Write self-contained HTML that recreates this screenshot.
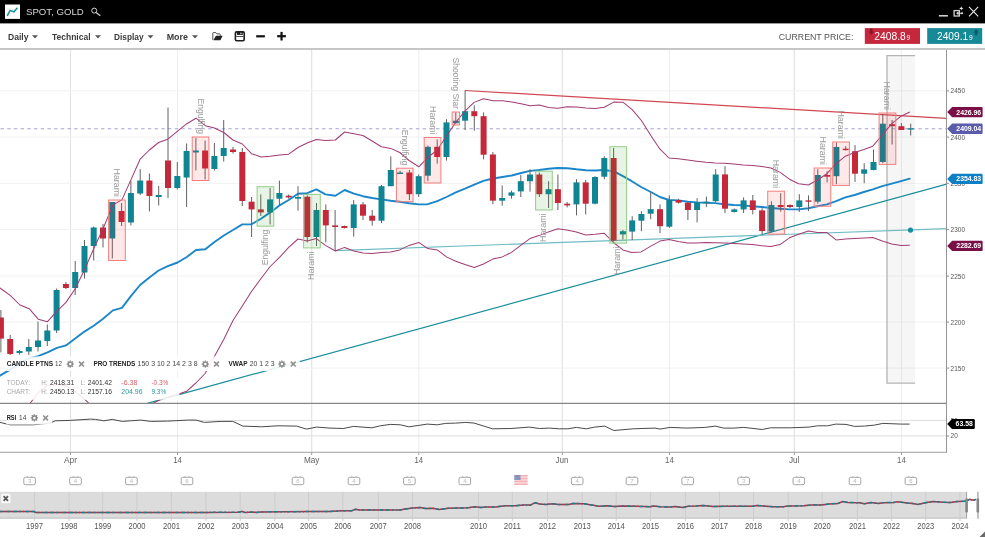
<!DOCTYPE html>
<html><head><meta charset="utf-8"><title>SPOT, GOLD</title>
<style>html,body{margin:0;padding:0;background:#fff;}body{width:985px;height:537px;overflow:hidden;font-family:"Liberation Sans",sans-serif;}svg{display:block;transform:translateZ(0);will-change:transform;}text{font-family:"Liberation Sans",sans-serif;}</style>
</head><body>
<svg width="985" height="537" viewBox="0 0 985 537">
<defs><clipPath id="cm"><rect x="0" y="50" width="946.6" height="353.3"/></clipPath></defs>
<rect x="0" y="0" width="985" height="537" fill="#fff"/>
<g><line x1="70.5" y1="50" x2="70.5" y2="452.3" stroke="#e3e3e3" stroke-width="1.2"/><line x1="311.7" y1="50" x2="311.7" y2="452.3" stroke="#e3e3e3" stroke-width="1.2"/><line x1="562.3" y1="50" x2="562.3" y2="452.3" stroke="#e3e3e3" stroke-width="1.2"/><line x1="794.3" y1="50" x2="794.3" y2="452.3" stroke="#e3e3e3" stroke-width="1.2"/><line x1="177.5" y1="50" x2="177.5" y2="452.3" stroke="#ededed" stroke-width="1"/><line x1="418.8" y1="50" x2="418.8" y2="452.3" stroke="#ededed" stroke-width="1"/><line x1="669.4" y1="50" x2="669.4" y2="452.3" stroke="#ededed" stroke-width="1"/><line x1="901.4" y1="50" x2="901.4" y2="452.3" stroke="#ededed" stroke-width="1"/><line x1="0" y1="90.9" x2="946.6" y2="90.9" stroke="#f1f1f1" stroke-width="1"/><line x1="0" y1="137.1" x2="946.6" y2="137.1" stroke="#f1f1f1" stroke-width="1"/><line x1="0" y1="183.3" x2="946.6" y2="183.3" stroke="#f1f1f1" stroke-width="1"/><line x1="0" y1="229.6" x2="946.6" y2="229.6" stroke="#f1f1f1" stroke-width="1"/><line x1="0" y1="276.1" x2="946.6" y2="276.1" stroke="#f1f1f1" stroke-width="1"/><line x1="0" y1="322.1" x2="946.6" y2="322.1" stroke="#f1f1f1" stroke-width="1"/><line x1="0" y1="368.1" x2="946.6" y2="368.1" stroke="#f1f1f1" stroke-width="1"/><line x1="0" y1="420.4" x2="946.6" y2="420.4" stroke="#dedede" stroke-width="1"/><line x1="0" y1="435.9" x2="946.6" y2="435.9" stroke="#dedede" stroke-width="1"/></g>
<rect x="887" y="55.6" width="28" height="327.6" fill="#000" fill-opacity="0.035"/>
<path d="M915 55.6 H887 V383.2 H915" fill="none" stroke="#b4b4b4" stroke-width="1.3"/>
<g clip-path="url(#cm)">
<line x1="-6.2" y1="128.7" x2="946.6" y2="128.7" stroke="#a4a4dd" stroke-width="1.1" stroke-dasharray="3.4,3.3"/>
<line x1="147.3" y1="403.3" x2="946.6" y2="184.1" stroke="#1a8e9c" stroke-width="1.2"/>
<line x1="335.4" y1="250.6" x2="946.6" y2="228.6" stroke="#6fbcc4" stroke-width="1.1"/>
<line x1="464.9" y1="90.5" x2="946.6" y2="118.3" stroke="#d04852" stroke-width="1.25"/>
<polyline points="-9.0,381.0 0.0,375.6 8.4,370.6 16.8,365.6 23.0,361.2 29.2,358.2 38.2,356.1 47.5,352.4 57.0,347.9 66.0,345.4 75.2,338.6 84.4,331.6 93.7,325.7 103.1,318.7 112.9,310.4 121.9,307.9 130.9,296.2 140.1,285.0 149.4,277.5 158.6,270.5 167.8,266.2 177.6,262.5 186.8,257.0 196.0,250.0 205.3,249.2 214.5,242.0 223.8,235.5 233.0,230.0 242.3,224.4 251.5,224.2 261.0,218.7 270.2,212.4 279.5,205.4 288.7,200.0 298.0,193.7 307.2,193.2 316.4,189.4 325.4,194.4 335.4,195.7 344.6,190.0 353.9,193.7 362.9,196.2 372.1,198.0 381.4,199.4 390.6,200.7 399.8,201.7 409.1,203.2 418.8,204.4 427.8,204.2 437.3,201.2 446.5,197.0 455.8,192.4 465.0,188.7 474.3,184.6 483.4,180.8 493.1,178.5 502.4,177.0 511.8,175.5 521.1,173.0 530.1,170.9 539.3,170.0 548.6,168.7 557.8,168.0 567.3,168.2 576.5,169.3 585.8,170.2 595.0,170.5 604.1,170.0 613.4,171.2 622.9,176.2 631.8,181.2 641.1,187.0 650.8,192.0 660.0,197.0 669.0,200.0 678.3,200.4 687.8,201.7 696.8,202.4 706.0,202.8 715.2,203.1 724.2,204.2 734.0,205.0 743.2,205.4 752.4,206.2 761.7,207.0 770.9,208.0 780.2,208.7 789.4,209.4 798.7,209.4 808.4,208.2 817.4,206.2 826.9,204.4 836.1,201.2 845.4,197.4 854.6,195.0 863.8,192.0 872.8,189.4 882.3,186.2 891.8,183.7 901.0,181.2 909.8,178.7" fill="none" stroke="#1b86c9" stroke-width="1.9" stroke-linejoin="round" stroke-linecap="round"/>
<g><line x1="0.9" y1="310.0" x2="0.9" y2="352.4" stroke="#626262" stroke-width="1"/><rect x="-2.1" y="317.5" width="6" height="21.1" fill="#c4283a"/><line x1="10.2" y1="335.0" x2="10.2" y2="355.0" stroke="#626262" stroke-width="1"/><rect x="7.2" y="339.0" width="6" height="15.0" fill="#c4283a"/><line x1="19.5" y1="350.0" x2="19.5" y2="354.5" stroke="#626262" stroke-width="1"/><rect x="16.5" y="351.0" width="6" height="2.0" fill="#0f8492"/><line x1="28.8" y1="339.0" x2="28.8" y2="355.0" stroke="#626262" stroke-width="1"/><rect x="25.8" y="347.0" width="6" height="4.5" fill="#0f8492"/><line x1="38.0" y1="321.5" x2="38.0" y2="351.5" stroke="#626262" stroke-width="1"/><rect x="35.0" y="340.5" width="6" height="6.5" fill="#0f8492"/><line x1="47.3" y1="324.5" x2="47.3" y2="346.0" stroke="#626262" stroke-width="1"/><rect x="44.3" y="330.5" width="6" height="10.5" fill="#0f8492"/><line x1="56.6" y1="288.5" x2="56.6" y2="333.0" stroke="#626262" stroke-width="1"/><rect x="53.6" y="290.0" width="6" height="40.5" fill="#0f8492"/><line x1="65.9" y1="282.0" x2="65.9" y2="289.0" stroke="#626262" stroke-width="1"/><rect x="62.9" y="284.0" width="6" height="4.0" fill="#c4283a"/><line x1="75.2" y1="261.0" x2="75.2" y2="295.0" stroke="#626262" stroke-width="1"/><rect x="72.2" y="272.0" width="6" height="16.0" fill="#0f8492"/><line x1="84.5" y1="240.0" x2="84.5" y2="278.5" stroke="#626262" stroke-width="1"/><rect x="81.5" y="246.0" width="6" height="26.5" fill="#0f8492"/><line x1="93.7" y1="226.5" x2="93.7" y2="260.5" stroke="#626262" stroke-width="1"/><rect x="90.7" y="227.5" width="6" height="18.5" fill="#0f8492"/><line x1="103.0" y1="224.0" x2="103.0" y2="247.5" stroke="#626262" stroke-width="1"/><rect x="100.0" y="227.5" width="6" height="11.0" fill="#c4283a"/><line x1="112.3" y1="202.0" x2="112.3" y2="258.5" stroke="#626262" stroke-width="1"/><rect x="109.3" y="202.0" width="6" height="36.5" fill="#0f8492"/><line x1="121.6" y1="203.0" x2="121.6" y2="226.0" stroke="#626262" stroke-width="1"/><rect x="118.6" y="211.0" width="6" height="11.0" fill="#c4283a"/><line x1="130.9" y1="180.5" x2="130.9" y2="225.5" stroke="#626262" stroke-width="1"/><rect x="127.9" y="193.0" width="6" height="29.5" fill="#0f8492"/><line x1="140.2" y1="169.0" x2="140.2" y2="195.0" stroke="#626262" stroke-width="1"/><rect x="137.2" y="180.5" width="6" height="13.0" fill="#0f8492"/><line x1="149.4" y1="173.5" x2="149.4" y2="211.5" stroke="#626262" stroke-width="1"/><rect x="146.4" y="180.5" width="6" height="15.5" fill="#c4283a"/><line x1="158.7" y1="186.0" x2="158.7" y2="205.5" stroke="#626262" stroke-width="1"/><rect x="155.7" y="195.0" width="6" height="2.0" fill="#0f8492"/><line x1="168.0" y1="107.5" x2="168.0" y2="198.0" stroke="#626262" stroke-width="1"/><rect x="165.0" y="160.5" width="6" height="27.5" fill="#c4283a"/><line x1="177.3" y1="162.0" x2="177.3" y2="189.5" stroke="#626262" stroke-width="1"/><rect x="174.3" y="176.0" width="6" height="12.0" fill="#0f8492"/><line x1="186.6" y1="143.5" x2="186.6" y2="207.0" stroke="#626262" stroke-width="1"/><rect x="183.6" y="151.0" width="6" height="26.5" fill="#0f8492"/><line x1="195.9" y1="138.0" x2="195.9" y2="170.5" stroke="#626262" stroke-width="1"/><rect x="192.9" y="150.5" width="6" height="2.0" fill="#0f8492"/><line x1="205.1" y1="140.5" x2="205.1" y2="179.5" stroke="#626262" stroke-width="1"/><rect x="202.1" y="150.5" width="6" height="18.0" fill="#c4283a"/><line x1="214.4" y1="143.0" x2="214.4" y2="170.5" stroke="#626262" stroke-width="1"/><rect x="211.4" y="156.0" width="6" height="13.0" fill="#0f8492"/><line x1="223.7" y1="120.0" x2="223.7" y2="161.5" stroke="#626262" stroke-width="1"/><rect x="220.7" y="148.0" width="6" height="8.0" fill="#0f8492"/><line x1="233.0" y1="147.0" x2="233.0" y2="153.5" stroke="#626262" stroke-width="1"/><rect x="230.0" y="149.5" width="6" height="2.5" fill="#c4283a"/><line x1="242.3" y1="148.0" x2="242.3" y2="206.0" stroke="#626262" stroke-width="1"/><rect x="239.3" y="152.0" width="6" height="49.0" fill="#c4283a"/><line x1="251.6" y1="197.0" x2="251.6" y2="237.0" stroke="#626262" stroke-width="1"/><rect x="248.6" y="201.7" width="6" height="7.7" fill="#c4283a"/><line x1="260.8" y1="194.4" x2="260.8" y2="216.0" stroke="#626262" stroke-width="1"/><rect x="257.8" y="209.4" width="6" height="3.0" fill="#c4283a"/><line x1="270.1" y1="188.0" x2="270.1" y2="224.4" stroke="#626262" stroke-width="1"/><rect x="267.1" y="199.4" width="6" height="13.0" fill="#0f8492"/><line x1="279.4" y1="180.7" x2="279.4" y2="205.0" stroke="#626262" stroke-width="1"/><rect x="276.4" y="193.0" width="6" height="5.7" fill="#0f8492"/><line x1="288.7" y1="194.4" x2="288.7" y2="198.7" stroke="#626262" stroke-width="1"/><rect x="285.7" y="195.7" width="6" height="1.7" fill="#c4283a"/><line x1="298.0" y1="186.2" x2="298.0" y2="210.7" stroke="#626262" stroke-width="1"/><rect x="295.0" y="197.0" width="6" height="1.7" fill="#0f8492"/><line x1="307.3" y1="195.4" x2="307.3" y2="242.4" stroke="#626262" stroke-width="1"/><rect x="304.3" y="196.7" width="6" height="40.3" fill="#c4283a"/><line x1="316.5" y1="203.0" x2="316.5" y2="246.0" stroke="#626262" stroke-width="1"/><rect x="313.5" y="210.0" width="6" height="27.0" fill="#0f8492"/><line x1="325.8" y1="204.4" x2="325.8" y2="242.4" stroke="#626262" stroke-width="1"/><rect x="322.8" y="210.0" width="6" height="15.4" fill="#c4283a"/><line x1="335.1" y1="210.0" x2="335.1" y2="251.0" stroke="#626262" stroke-width="1"/><rect x="332.1" y="225.4" width="6" height="1.6" fill="#c4283a"/><line x1="344.4" y1="225.5" x2="344.4" y2="228.5" stroke="#626262" stroke-width="1"/><rect x="341.4" y="226.0" width="6" height="2.0" fill="#c4283a"/><line x1="353.7" y1="200.0" x2="353.7" y2="236.6" stroke="#626262" stroke-width="1"/><rect x="350.7" y="204.4" width="6" height="23.6" fill="#0f8492"/><line x1="363.0" y1="202.0" x2="363.0" y2="220.0" stroke="#626262" stroke-width="1"/><rect x="360.0" y="204.4" width="6" height="11.3" fill="#c4283a"/><line x1="372.2" y1="210.0" x2="372.2" y2="225.7" stroke="#626262" stroke-width="1"/><rect x="369.2" y="215.7" width="6" height="5.0" fill="#c4283a"/><line x1="381.5" y1="185.0" x2="381.5" y2="223.0" stroke="#626262" stroke-width="1"/><rect x="378.5" y="186.2" width="6" height="34.5" fill="#0f8492"/><line x1="390.8" y1="156.4" x2="390.8" y2="186.2" stroke="#626262" stroke-width="1"/><rect x="387.8" y="170.0" width="6" height="16.2" fill="#0f8492"/><line x1="400.1" y1="170.7" x2="400.1" y2="174.0" stroke="#626262" stroke-width="1"/><rect x="397.1" y="172.5" width="6" height="1.5" fill="#0f8492"/><line x1="409.4" y1="170.0" x2="409.4" y2="200.0" stroke="#626262" stroke-width="1"/><rect x="406.4" y="172.5" width="6" height="21.7" fill="#c4283a"/><line x1="418.7" y1="174.5" x2="418.7" y2="197.0" stroke="#626262" stroke-width="1"/><rect x="415.7" y="176.2" width="6" height="18.0" fill="#0f8492"/><line x1="427.9" y1="145.5" x2="427.9" y2="181.2" stroke="#626262" stroke-width="1"/><rect x="424.9" y="146.8" width="6" height="28.9" fill="#0f8492"/><line x1="437.2" y1="139.4" x2="437.2" y2="163.6" stroke="#626262" stroke-width="1"/><rect x="434.2" y="146.8" width="6" height="10.2" fill="#c4283a"/><line x1="446.5" y1="119.2" x2="446.5" y2="160.6" stroke="#626262" stroke-width="1"/><rect x="443.5" y="122.4" width="6" height="34.6" fill="#0f8492"/><line x1="455.8" y1="112.4" x2="455.8" y2="123.2" stroke="#626262" stroke-width="1"/><rect x="452.8" y="120.7" width="6" height="2.5" fill="#0f8492"/><line x1="465.1" y1="90.5" x2="465.1" y2="130.0" stroke="#626262" stroke-width="1"/><rect x="462.1" y="111.2" width="6" height="9.5" fill="#0f8492"/><line x1="474.3" y1="105.4" x2="474.3" y2="130.7" stroke="#626262" stroke-width="1"/><rect x="471.3" y="111.2" width="6" height="5.0" fill="#c4283a"/><line x1="483.6" y1="112.4" x2="483.6" y2="159.4" stroke="#626262" stroke-width="1"/><rect x="480.6" y="116.2" width="6" height="38.5" fill="#c4283a"/><line x1="492.9" y1="152.0" x2="492.9" y2="204.2" stroke="#626262" stroke-width="1"/><rect x="489.9" y="154.5" width="6" height="46.2" fill="#c4283a"/><line x1="502.2" y1="185.4" x2="502.2" y2="205.7" stroke="#626262" stroke-width="1"/><rect x="499.2" y="198.0" width="6" height="2.7" fill="#0f8492"/><line x1="511.5" y1="190.7" x2="511.5" y2="198.7" stroke="#626262" stroke-width="1"/><rect x="508.5" y="192.4" width="6" height="3.3" fill="#0f8492"/><line x1="520.8" y1="175.0" x2="520.8" y2="197.0" stroke="#626262" stroke-width="1"/><rect x="517.8" y="181.2" width="6" height="10.2" fill="#0f8492"/><line x1="530.0" y1="169.2" x2="530.0" y2="191.7" stroke="#626262" stroke-width="1"/><rect x="527.0" y="174.5" width="6" height="6.7" fill="#0f8492"/><line x1="539.3" y1="172.5" x2="539.3" y2="197.0" stroke="#626262" stroke-width="1"/><rect x="536.3" y="174.5" width="6" height="19.7" fill="#c4283a"/><line x1="548.6" y1="181.2" x2="548.6" y2="208.0" stroke="#626262" stroke-width="1"/><rect x="545.6" y="189.2" width="6" height="5.0" fill="#0f8492"/><line x1="557.9" y1="174.5" x2="557.9" y2="210.0" stroke="#626262" stroke-width="1"/><rect x="554.9" y="189.2" width="6" height="13.8" fill="#c4283a"/><line x1="567.2" y1="202.0" x2="567.2" y2="207.4" stroke="#626262" stroke-width="1"/><rect x="564.2" y="203.7" width="6" height="1.7" fill="#c4283a"/><line x1="576.5" y1="179.2" x2="576.5" y2="215.4" stroke="#626262" stroke-width="1"/><rect x="573.5" y="182.4" width="6" height="22.0" fill="#0f8492"/><line x1="585.7" y1="180.0" x2="585.7" y2="214.4" stroke="#626262" stroke-width="1"/><rect x="582.7" y="182.4" width="6" height="21.3" fill="#c4283a"/><line x1="595.0" y1="176.2" x2="595.0" y2="204.4" stroke="#626262" stroke-width="1"/><rect x="592.0" y="177.0" width="6" height="26.7" fill="#0f8492"/><line x1="604.3" y1="156.2" x2="604.3" y2="179.2" stroke="#626262" stroke-width="1"/><rect x="601.3" y="158.0" width="6" height="18.7" fill="#0f8492"/><line x1="613.6" y1="148.0" x2="613.6" y2="241.6" stroke="#626262" stroke-width="1"/><rect x="610.6" y="158.0" width="6" height="82.6" fill="#c4283a"/><line x1="622.9" y1="230.0" x2="622.9" y2="239.4" stroke="#626262" stroke-width="1"/><rect x="619.9" y="231.2" width="6" height="3.2" fill="#0f8492"/><line x1="632.2" y1="216.2" x2="632.2" y2="240.0" stroke="#626262" stroke-width="1"/><rect x="629.2" y="220.4" width="6" height="11.2" fill="#0f8492"/><line x1="641.4" y1="211.2" x2="641.4" y2="231.2" stroke="#626262" stroke-width="1"/><rect x="638.4" y="214.0" width="6" height="6.7" fill="#0f8492"/><line x1="650.7" y1="192.4" x2="650.7" y2="219.2" stroke="#626262" stroke-width="1"/><rect x="647.7" y="209.2" width="6" height="4.5" fill="#0f8492"/><line x1="660.0" y1="204.4" x2="660.0" y2="233.0" stroke="#626262" stroke-width="1"/><rect x="657.0" y="209.2" width="6" height="17.0" fill="#c4283a"/><line x1="669.3" y1="195.4" x2="669.3" y2="228.0" stroke="#626262" stroke-width="1"/><rect x="666.3" y="200.0" width="6" height="26.7" fill="#0f8492"/><line x1="678.6" y1="198.7" x2="678.6" y2="203.7" stroke="#626262" stroke-width="1"/><rect x="675.6" y="200.0" width="6" height="2.7" fill="#c4283a"/><line x1="687.9" y1="202.0" x2="687.9" y2="220.0" stroke="#626262" stroke-width="1"/><rect x="684.9" y="202.7" width="6" height="7.3" fill="#c4283a"/><line x1="697.1" y1="198.2" x2="697.1" y2="222.4" stroke="#626262" stroke-width="1"/><rect x="694.1" y="202.4" width="6" height="7.6" fill="#0f8492"/><line x1="706.4" y1="196.5" x2="706.4" y2="207.0" stroke="#626262" stroke-width="1"/><rect x="703.4" y="201.7" width="6" height="1.5" fill="#0f8492"/><line x1="715.7" y1="169.2" x2="715.7" y2="202.4" stroke="#626262" stroke-width="1"/><rect x="712.7" y="174.5" width="6" height="26.7" fill="#0f8492"/><line x1="725.0" y1="166.2" x2="725.0" y2="213.1" stroke="#626262" stroke-width="1"/><rect x="722.0" y="174.4" width="6" height="34.3" fill="#c4283a"/><line x1="734.3" y1="208.5" x2="734.3" y2="212.5" stroke="#626262" stroke-width="1"/><rect x="731.3" y="209.4" width="6" height="2.6" fill="#0f8492"/><line x1="743.6" y1="197.4" x2="743.6" y2="213.0" stroke="#626262" stroke-width="1"/><rect x="740.6" y="200.4" width="6" height="9.0" fill="#0f8492"/><line x1="752.8" y1="195.0" x2="752.8" y2="214.4" stroke="#626262" stroke-width="1"/><rect x="749.8" y="200.4" width="6" height="9.6" fill="#c4283a"/><line x1="762.1" y1="208.2" x2="762.1" y2="234.4" stroke="#626262" stroke-width="1"/><rect x="759.1" y="210.4" width="6" height="20.7" fill="#c4283a"/><line x1="771.4" y1="201.2" x2="771.4" y2="232.4" stroke="#626262" stroke-width="1"/><rect x="768.4" y="205.0" width="6" height="26.6" fill="#0f8492"/><line x1="780.7" y1="193.2" x2="780.7" y2="211.6" stroke="#626262" stroke-width="1"/><rect x="777.7" y="205.0" width="6" height="2.0" fill="#c4283a"/><line x1="790.0" y1="204.4" x2="790.0" y2="208.0" stroke="#626262" stroke-width="1"/><rect x="787.0" y="205.0" width="6" height="2.0" fill="#c4283a"/><line x1="799.3" y1="194.2" x2="799.3" y2="212.0" stroke="#626262" stroke-width="1"/><rect x="796.3" y="200.4" width="6" height="6.6" fill="#0f8492"/><line x1="808.5" y1="195.4" x2="808.5" y2="211.1" stroke="#626262" stroke-width="1"/><rect x="805.5" y="200.4" width="6" height="1.4" fill="#c4283a"/><line x1="817.8" y1="169.2" x2="817.8" y2="203.7" stroke="#626262" stroke-width="1"/><rect x="814.8" y="175.0" width="6" height="26.7" fill="#0f8492"/><line x1="827.1" y1="171.2" x2="827.1" y2="182.4" stroke="#626262" stroke-width="1"/><rect x="824.1" y="175.0" width="6" height="1.7" fill="#c4283a"/><line x1="836.4" y1="142.5" x2="836.4" y2="184.2" stroke="#626262" stroke-width="1"/><rect x="833.4" y="147.0" width="6" height="29.2" fill="#0f8492"/><line x1="845.7" y1="146.2" x2="845.7" y2="150.5" stroke="#626262" stroke-width="1"/><rect x="842.7" y="148.7" width="6" height="1.4" fill="#c4283a"/><line x1="855.0" y1="145.0" x2="855.0" y2="182.0" stroke="#626262" stroke-width="1"/><rect x="852.0" y="151.2" width="6" height="22.5" fill="#c4283a"/><line x1="864.2" y1="163.2" x2="864.2" y2="183.2" stroke="#626262" stroke-width="1"/><rect x="861.2" y="169.4" width="6" height="4.3" fill="#0f8492"/><line x1="873.5" y1="149.5" x2="873.5" y2="170.4" stroke="#626262" stroke-width="1"/><rect x="870.5" y="162.0" width="6" height="8.0" fill="#0f8492"/><line x1="882.8" y1="113.7" x2="882.8" y2="163.2" stroke="#626262" stroke-width="1"/><rect x="879.8" y="123.7" width="6" height="38.3" fill="#0f8492"/><line x1="892.1" y1="120.0" x2="892.1" y2="144.5" stroke="#626262" stroke-width="1"/><rect x="889.1" y="124.2" width="6" height="2.0" fill="#c4283a"/><line x1="901.4" y1="123.0" x2="901.4" y2="130.0" stroke="#626262" stroke-width="1"/><rect x="898.4" y="126.2" width="6" height="3.8" fill="#c4283a"/><line x1="910.7" y1="123.7" x2="910.7" y2="135.5" stroke="#626262" stroke-width="1"/><rect x="907.7" y="128.2" width="6" height="1.4" fill="#0f8492"/></g>
<polyline points="-9.0,281.0 0.0,288.0 10.2,295.4 20.0,305.0 29.2,308.7 38.2,319.2 47.5,321.7 57.0,311.2 66.0,302.4 75.2,288.7 84.4,270.0 93.7,248.7 103.1,228.5 112.9,204.9 121.9,199.9 130.9,179.9 140.1,159.2 149.4,150.0 158.6,142.5 167.8,139.2 177.6,131.2 186.8,123.7 196.0,118.2 205.3,125.7 214.5,128.0 223.8,132.5 233.0,140.0 242.3,144.0 251.5,153.7 261.0,157.0 270.2,156.2 279.5,155.0 288.7,154.2 298.0,147.5 307.2,143.0 316.4,139.5 325.4,140.5 335.4,140.0 344.6,132.0 353.9,133.7 362.9,135.5 372.1,141.0 381.4,146.8 390.6,148.4 399.8,152.5 409.1,160.5 418.8,166.8 427.8,157.4 437.3,150.0 446.5,136.0 455.7,122.4 464.9,111.2 474.1,102.4 483.4,98.7 493.1,100.7 502.4,100.7 511.8,102.0 521.1,103.7 530.1,105.7 539.3,105.0 548.6,107.4 557.8,108.2 567.3,106.7 576.5,107.0 585.8,108.0 595.0,108.6 604.3,107.2 613.6,102.1 622.9,102.2 632.2,109.6 641.4,120.5 650.8,135.5 660.0,149.2 669.0,158.0 678.3,158.7 687.8,160.0 696.8,161.2 706.0,162.3 715.2,163.0 724.2,163.2 734.0,164.0 743.2,165.0 752.4,165.4 761.7,166.4 770.9,168.0 780.2,172.4 789.4,179.2 798.7,183.7 808.4,185.0 817.4,180.0 826.9,173.7 836.1,163.7 845.4,156.2 854.6,152.5 863.8,149.5 872.8,146.2 882.3,135.0 891.8,123.7 901.0,116.2 909.8,112.0" fill="none" stroke="#a23c74" stroke-width="1.02" stroke-linejoin="round"/>
<polyline points="10.2,432.0 19.5,418.0 28.8,405.0 38.0,393.0 47.3,385.5 56.6,384.3 65.9,385.8 75.2,391.7 84.5,399.2 93.7,408.0 112.0,440.0 130.0,450.0 149.0,415.0 153.4,403.3 160.5,399.4 168.0,397.0 177.3,394.5 186.6,391.3 195.9,383.0 205.1,373.5 214.4,356.5 223.7,339.5 233.0,320.5 242.3,306.0 251.5,291.5 261.0,278.5 270.2,266.5 279.5,257.4 288.7,247.4 298.0,239.0 307.2,241.0 316.4,238.6 325.4,245.4 335.4,251.0 344.6,247.4 353.9,251.0 362.9,253.0 372.1,253.6 381.4,252.4 390.6,251.9 399.8,249.9 409.1,245.4 418.8,242.4 427.8,248.6 437.3,249.9 446.5,256.9 455.8,261.2 465.0,264.5 474.3,267.5 483.5,264.0 492.7,259.1 502.2,256.9 511.5,252.4 520.7,245.4 530.0,238.6 539.0,235.6 548.4,231.9 557.7,228.7 566.7,229.9 576.4,231.9 585.6,234.9 595.1,234.3 604.1,233.2 613.4,242.5 622.9,249.9 631.8,252.4 641.1,251.9 650.8,246.1 660.0,241.1 669.0,239.4 678.3,241.6 687.8,242.9 696.8,242.9 706.0,242.5 715.2,242.8 724.2,243.1 734.0,243.5 743.2,244.0 752.4,244.4 761.7,245.7 770.9,246.6 780.0,244.6 789.4,237.8 798.7,234.2 808.4,231.1 817.4,232.4 826.9,232.6 836.1,239.9 845.4,239.1 854.6,238.6 863.8,237.9 872.8,237.4 882.3,241.1 891.8,244.0 901.0,245.5 909.8,245.3" fill="none" stroke="#a23c74" stroke-width="1.02" stroke-linejoin="round"/>
<g><rect x="108.6" y="200" width="16.7" height="60.5" fill="#ff2a2a" fill-opacity="0.11" stroke="#f47e7e" stroke-width="1"/><text transform="translate(114.0,168.5) rotate(90)" font-size="9" fill="#9c9c9c" textLength="28.5" lengthAdjust="spacingAndGlyphs">Harami</text><rect x="192.2" y="137" width="16.7" height="43.5" fill="#ff2a2a" fill-opacity="0.11" stroke="#f47e7e" stroke-width="1"/><text transform="translate(198.1,98.5) rotate(90)" font-size="9" fill="#9c9c9c" textLength="35.5" lengthAdjust="spacingAndGlyphs">Engulfing</text><rect x="257.1" y="186.7" width="16.7" height="39.5" fill="#3a9a2a" fill-opacity="0.12" stroke="#93cd88" stroke-width="1"/><text transform="translate(268.0,265.2) rotate(-90)" font-size="9" fill="#9c9c9c" textLength="35.5" lengthAdjust="spacingAndGlyphs">Engulfing</text><rect x="303.6" y="194.4" width="16.7" height="53.5" fill="#3a9a2a" fill-opacity="0.12" stroke="#93cd88" stroke-width="1"/><text transform="translate(313.9,279.9) rotate(-90)" font-size="9" fill="#9c9c9c" textLength="28.5" lengthAdjust="spacingAndGlyphs">Harami</text><rect x="396.4" y="168.2" width="16.7" height="33.5" fill="#ff2a2a" fill-opacity="0.11" stroke="#f47e7e" stroke-width="1"/><text transform="translate(402.3,129.7) rotate(90)" font-size="9" fill="#9c9c9c" textLength="35.5" lengthAdjust="spacingAndGlyphs">Engulfing</text><rect x="424.2" y="137.5" width="16.7" height="45.5" fill="#ff2a2a" fill-opacity="0.11" stroke="#f47e7e" stroke-width="1"/><text transform="translate(429.6,106.0) rotate(90)" font-size="9" fill="#9c9c9c" textLength="28.5" lengthAdjust="spacingAndGlyphs">Harami</text><rect x="452.1" y="112" width="7.4" height="13.0" fill="#ff2a2a" fill-opacity="0.11" stroke="#f47e7e" stroke-width="1"/><text transform="translate(452.5,57.5) rotate(90)" font-size="9" fill="#9c9c9c" textLength="51.5" lengthAdjust="spacingAndGlyphs">Shooting Star</text><rect x="535.6" y="171.2" width="16.7" height="38.8" fill="#3a9a2a" fill-opacity="0.12" stroke="#93cd88" stroke-width="1"/><text transform="translate(546.0,242.0) rotate(-90)" font-size="9" fill="#9c9c9c" textLength="28.5" lengthAdjust="spacingAndGlyphs">Harami</text><rect x="609.9" y="146.7" width="16.7" height="96.4" fill="#3a9a2a" fill-opacity="0.12" stroke="#93cd88" stroke-width="1"/><text transform="translate(620.2,275.1) rotate(-90)" font-size="9" fill="#9c9c9c" textLength="28.5" lengthAdjust="spacingAndGlyphs">Harami</text><rect x="767.7" y="191.2" width="16.7" height="42.9" fill="#ff2a2a" fill-opacity="0.11" stroke="#f47e7e" stroke-width="1"/><text transform="translate(773.0,159.7) rotate(90)" font-size="9" fill="#9c9c9c" textLength="28.5" lengthAdjust="spacingAndGlyphs">Harami</text><rect x="814.1" y="168" width="16.7" height="38.2" fill="#ff2a2a" fill-opacity="0.11" stroke="#f47e7e" stroke-width="1"/><text transform="translate(819.5,136.5) rotate(90)" font-size="9" fill="#9c9c9c" textLength="28.5" lengthAdjust="spacingAndGlyphs">Harami</text><rect x="832.7" y="142" width="16.7" height="43.4" fill="#ff2a2a" fill-opacity="0.11" stroke="#f47e7e" stroke-width="1"/><text transform="translate(838.0,110.5) rotate(90)" font-size="9" fill="#9c9c9c" textLength="28.5" lengthAdjust="spacingAndGlyphs">Harami</text><rect x="879.1" y="113" width="16.7" height="51.4" fill="#ff2a2a" fill-opacity="0.11" stroke="#f47e7e" stroke-width="1"/><text transform="translate(884.4,81.5) rotate(90)" font-size="9" fill="#9c9c9c" textLength="28.5" lengthAdjust="spacingAndGlyphs">Harami</text></g>
<circle cx="910.5" cy="230.1" r="2.6" fill="#1a8e9c"/>
</g>
<polyline points="-5.0,422.0 0.0,422.4 10.0,424.8 33.5,424.8 50.0,423.1 55.3,420.8 70.4,420.4 90.5,419.1 95.5,419.4 103.9,420.8 112.2,419.4 122.3,421.4 130.7,420.8 140.7,420.1 150.8,421.4 167.5,421.1 187.6,420.1 196.0,420.1 204.4,422.4 221.1,421.4 232.8,421.4 242.9,426.1 261.3,426.8 278.0,425.8 296.5,426.1 306.5,429.1 316.6,427.1 330.0,428.1 343.4,428.5 353.5,426.4 371.9,427.8 380.3,425.8 390.3,424.4 400.4,424.8 408.8,426.8 418.8,425.4 427.2,424.1 437.2,424.8 445.6,423.4 455.7,423.1 465.7,422.4 474.1,423.1 492.5,428.8 510.9,428.5 529.4,427.1 539.4,428.5 549.5,428.1 559.5,428.8 567.9,428.8 576.3,427.4 586.3,428.8 594.7,427.1 604.7,426.1 613.8,430.5 633.2,428.8 655.0,428.1 660.0,429.1 670.1,427.4 686.9,428.1 705.3,427.4 715.3,426.1 723.7,428.1 733.8,428.1 743.8,427.4 762.2,429.5 770.6,427.8 790.7,427.8 809.1,427.1 817.5,425.8 827.6,425.8 835.9,424.1 846.0,424.4 854.4,426.4 864.4,426.1 874.5,425.1 882.8,423.4 901.3,424.1 909.6,424.1" fill="none" stroke="#4a4a4a" stroke-width="1" stroke-linejoin="round"/>
<rect x="6.3" y="356.4" width="293.5" height="14.6" fill="#fff" fill-opacity="0.88"/>
<rect x="6.3" y="377" width="173.2" height="22.8" fill="#fff" fill-opacity="0.88"/>
<rect x="6.3" y="411" width="45.7" height="13.5" fill="#fff" fill-opacity="0.88"/>
<line x1="0" y1="403.3" x2="946.6" y2="403.3" stroke="#868686" stroke-width="1.15"/>
<line x1="0" y1="452.3" x2="946.6" y2="452.3" stroke="#a2a2a2" stroke-width="1"/>
<line x1="946.5" y1="50" x2="946.5" y2="452.8" stroke="#959595" stroke-width="1"/>
<line x1="70.5" y1="452.3" x2="70.5" y2="455" stroke="#9a9a9a" stroke-width="1"/><line x1="311.7" y1="452.3" x2="311.7" y2="455" stroke="#9a9a9a" stroke-width="1"/><line x1="562.3" y1="452.3" x2="562.3" y2="455" stroke="#9a9a9a" stroke-width="1"/><line x1="794.3" y1="452.3" x2="794.3" y2="455" stroke="#9a9a9a" stroke-width="1"/><line x1="177.5" y1="452.3" x2="177.5" y2="455" stroke="#9a9a9a" stroke-width="1"/><line x1="418.8" y1="452.3" x2="418.8" y2="455" stroke="#9a9a9a" stroke-width="1"/><line x1="669.4" y1="452.3" x2="669.4" y2="455" stroke="#9a9a9a" stroke-width="1"/><line x1="901.4" y1="452.3" x2="901.4" y2="455" stroke="#9a9a9a" stroke-width="1"/><line x1="946.6" y1="90.9" x2="949" y2="90.9" stroke="#8c8c8c" stroke-width="1"/><line x1="946.6" y1="137.1" x2="949" y2="137.1" stroke="#8c8c8c" stroke-width="1"/><line x1="946.6" y1="183.3" x2="949" y2="183.3" stroke="#8c8c8c" stroke-width="1"/><line x1="946.6" y1="229.6" x2="949" y2="229.6" stroke="#8c8c8c" stroke-width="1"/><line x1="946.6" y1="276.1" x2="949" y2="276.1" stroke="#8c8c8c" stroke-width="1"/><line x1="946.6" y1="322.1" x2="949" y2="322.1" stroke="#8c8c8c" stroke-width="1"/><line x1="946.6" y1="368.1" x2="949" y2="368.1" stroke="#8c8c8c" stroke-width="1"/><line x1="946.6" y1="436" x2="949" y2="436" stroke="#8c8c8c" stroke-width="1"/>
<text x="950.6" y="93.30000000000001" font-size="6.6" fill="#555" textLength="14.4" lengthAdjust="spacingAndGlyphs">2450</text>
<text x="950.6" y="139.5" font-size="6.6" fill="#555" textLength="14.4" lengthAdjust="spacingAndGlyphs">2400</text>
<text x="950.6" y="185.70000000000002" font-size="6.6" fill="#555" textLength="14.4" lengthAdjust="spacingAndGlyphs">2350</text>
<text x="950.6" y="232.0" font-size="6.6" fill="#555" textLength="14.4" lengthAdjust="spacingAndGlyphs">2300</text>
<text x="950.6" y="278.5" font-size="6.6" fill="#555" textLength="14.4" lengthAdjust="spacingAndGlyphs">2250</text>
<text x="950.6" y="324.5" font-size="6.6" fill="#555" textLength="14.4" lengthAdjust="spacingAndGlyphs">2200</text>
<text x="950.6" y="370.5" font-size="6.6" fill="#555" textLength="14.4" lengthAdjust="spacingAndGlyphs">2150</text>
<text x="950.6" y="422.79999999999995" font-size="6.6" fill="#555" textLength="7.2" lengthAdjust="spacingAndGlyphs">80</text>
<text x="950.6" y="438.4" font-size="6.6" fill="#555" textLength="7.2" lengthAdjust="spacingAndGlyphs">20</text>
<path d="M947.2 112.1 L952.2 106.89999999999999 H981.4 Q982.6 106.89999999999999 982.6 108.1 V116.1 Q982.6 117.3 981.4 117.3 H952.2 Z" fill="#7a0f47"/>
<text x="956.3" y="114.55" font-size="6.8" fill="#fff" font-weight="bold" textLength="24.9" lengthAdjust="spacingAndGlyphs">2426.96</text>
<path d="M947.2 128.7 L952.2 123.49999999999999 H981.4 Q982.6 123.49999999999999 982.6 124.69999999999999 V132.7 Q982.6 133.89999999999998 981.4 133.89999999999998 H952.2 Z" fill="#5b5bab"/>
<text x="956.3" y="131.14999999999998" font-size="6.8" fill="#fff" font-weight="bold" textLength="24.9" lengthAdjust="spacingAndGlyphs">2409.04</text>
<path d="M947.2 178.9 L952.2 173.70000000000002 H981.4 Q982.6 173.70000000000002 982.6 174.9 V182.9 Q982.6 184.1 981.4 184.1 H952.2 Z" fill="#0d7fc4"/>
<text x="956.3" y="181.35" font-size="6.8" fill="#fff" font-weight="bold" textLength="24.9" lengthAdjust="spacingAndGlyphs">2354.83</text>
<path d="M947.2 245.9 L952.2 240.70000000000002 H981.4 Q982.6 240.70000000000002 982.6 241.9 V249.9 Q982.6 251.1 981.4 251.1 H952.2 Z" fill="#7a0f47"/>
<text x="956.3" y="248.35" font-size="6.8" fill="#fff" font-weight="bold" textLength="24.9" lengthAdjust="spacingAndGlyphs">2282.69</text>
<path d="M947.2 424 L952 419 H973.6 Q974.8 419 974.8 420.2 V427.8 Q974.8 429 973.6 429 H952 Z" fill="#000"/>
<text x="955.6" y="426.45" font-size="6.8" fill="#fff" font-weight="bold" textLength="17.2" lengthAdjust="spacingAndGlyphs">63.58</text>
<text x="64.0" y="463" font-size="8.6" fill="#626262" textLength="13" lengthAdjust="spacingAndGlyphs">Apr</text>
<text x="173.2" y="463" font-size="8.6" fill="#626262" textLength="8.6" lengthAdjust="spacingAndGlyphs">14</text>
<text x="303.95" y="463" font-size="8.6" fill="#626262" textLength="15.5" lengthAdjust="spacingAndGlyphs">May</text>
<text x="414.5" y="463" font-size="8.6" fill="#626262" textLength="8.6" lengthAdjust="spacingAndGlyphs">14</text>
<text x="555.5" y="463" font-size="8.6" fill="#626262" textLength="13" lengthAdjust="spacingAndGlyphs">Jun</text>
<text x="665.1" y="463" font-size="8.6" fill="#626262" textLength="8.6" lengthAdjust="spacingAndGlyphs">14</text>
<text x="788.95" y="463" font-size="8.6" fill="#626262" textLength="10.5" lengthAdjust="spacingAndGlyphs">Jul</text>
<text x="897.1" y="463" font-size="8.6" fill="#626262" textLength="8.6" lengthAdjust="spacingAndGlyphs">14</text>
<text x="6.7" y="366.0" font-size="6.6" fill="#222" font-weight="bold" textLength="46.3" lengthAdjust="spacingAndGlyphs">CANDLE PTNS</text>
<text x="55" y="366.0" font-size="6.6" fill="#444" textLength="7" lengthAdjust="spacingAndGlyphs">12</text>
<path d="M72.99 363.41 L74.00 363.47 L74.00 364.73 L72.99 364.79 L72.69 365.52 L73.36 366.26 L72.46 367.16 L71.72 366.49 L70.99 366.79 L70.93 367.80 L69.67 367.80 L69.61 366.79 L68.88 366.49 L68.14 367.16 L67.24 366.26 L67.91 365.52 L67.61 364.79 L66.60 364.73 L66.60 363.47 L67.61 363.41 L67.91 362.68 L67.24 361.94 L68.14 361.04 L68.88 361.71 L69.61 361.41 L69.67 360.40 L70.93 360.40 L70.99 361.41 L71.72 361.71 L72.46 361.04 L73.36 361.94 L72.69 362.68Z" fill="#8a8a8a"/><circle cx="70.3" cy="364.1" r="1.25" fill="#fff"/>
<path d="M79.05 361.65000000000003 L83.95 366.55 M83.95 361.65000000000003 L79.05 366.55" stroke="#8e8e8e" stroke-width="1.6" fill="none"/>
<text x="93.4" y="366.0" font-size="6.6" fill="#222" font-weight="bold" textLength="42" lengthAdjust="spacingAndGlyphs">PRO TRENDS</text>
<text x="137.6" y="366.0" font-size="6.6" fill="#444" textLength="60" lengthAdjust="spacingAndGlyphs">150 3 10 2 14 2 3 8</text>
<path d="M207.99 363.41 L209.00 363.47 L209.00 364.73 L207.99 364.79 L207.69 365.52 L208.36 366.26 L207.46 367.16 L206.72 366.49 L205.99 366.79 L205.93 367.80 L204.67 367.80 L204.61 366.79 L203.88 366.49 L203.14 367.16 L202.24 366.26 L202.91 365.52 L202.61 364.79 L201.60 364.73 L201.60 363.47 L202.61 363.41 L202.91 362.68 L202.24 361.94 L203.14 361.04 L203.88 361.71 L204.61 361.41 L204.67 360.40 L205.93 360.40 L205.99 361.41 L206.72 361.71 L207.46 361.04 L208.36 361.94 L207.69 362.68Z" fill="#8a8a8a"/><circle cx="205.3" cy="364.1" r="1.25" fill="#fff"/>
<path d="M214.05 361.65000000000003 L218.95 366.55 M218.95 361.65000000000003 L214.05 366.55" stroke="#8e8e8e" stroke-width="1.6" fill="none"/>
<text x="228.5" y="366.0" font-size="6.6" fill="#222" font-weight="bold" textLength="19" lengthAdjust="spacingAndGlyphs">VWAP</text>
<text x="249.8" y="366.0" font-size="6.6" fill="#444" textLength="24.8" lengthAdjust="spacingAndGlyphs">20 1 2 3</text>
<path d="M284.59 363.41 L285.60 363.47 L285.60 364.73 L284.59 364.79 L284.29 365.52 L284.96 366.26 L284.06 367.16 L283.32 366.49 L282.59 366.79 L282.53 367.80 L281.27 367.80 L281.21 366.79 L280.48 366.49 L279.74 367.16 L278.84 366.26 L279.51 365.52 L279.21 364.79 L278.20 364.73 L278.20 363.47 L279.21 363.41 L279.51 362.68 L278.84 361.94 L279.74 361.04 L280.48 361.71 L281.21 361.41 L281.27 360.40 L282.53 360.40 L282.59 361.41 L283.32 361.71 L284.06 361.04 L284.96 361.94 L284.29 362.68Z" fill="#8a8a8a"/><circle cx="281.9" cy="364.1" r="1.25" fill="#fff"/>
<path d="M290.75 361.65000000000003 L295.65 366.55 M295.65 361.65000000000003 L290.75 366.55" stroke="#8e8e8e" stroke-width="1.6" fill="none"/>
<text x="6.7" y="385.4" font-size="6.6" fill="#a8a8a8" textLength="23.3" lengthAdjust="spacingAndGlyphs">TODAY:</text>
<text x="41.3" y="385.4" font-size="6.6" fill="#a8a8a8" textLength="6.3" lengthAdjust="spacingAndGlyphs">H:</text>
<text x="50" y="385.4" font-size="6.6" fill="#333" textLength="24.2" lengthAdjust="spacingAndGlyphs">2418.31</text>
<text x="80.5" y="385.4" font-size="6.6" fill="#a8a8a8" textLength="5" lengthAdjust="spacingAndGlyphs">L:</text>
<text x="87.8" y="385.4" font-size="6.6" fill="#333" textLength="24.2" lengthAdjust="spacingAndGlyphs">2401.42</text>
<text x="121.3" y="385.4" font-size="6.6" fill="#d9606a" textLength="16" lengthAdjust="spacingAndGlyphs">-6.38</text>
<text x="151.4" y="385.4" font-size="6.6" fill="#d9606a" textLength="17" lengthAdjust="spacingAndGlyphs">-0.3%</text>
<text x="6.7" y="394.1" font-size="6.6" fill="#a8a8a8" textLength="23.3" lengthAdjust="spacingAndGlyphs">CHART:</text>
<text x="41.3" y="394.1" font-size="6.6" fill="#a8a8a8" textLength="6.3" lengthAdjust="spacingAndGlyphs">H:</text>
<text x="50" y="394.1" font-size="6.6" fill="#333" textLength="24.2" lengthAdjust="spacingAndGlyphs">2450.13</text>
<text x="80.5" y="394.1" font-size="6.6" fill="#a8a8a8" textLength="5" lengthAdjust="spacingAndGlyphs">L:</text>
<text x="87.8" y="394.1" font-size="6.6" fill="#333" textLength="24.2" lengthAdjust="spacingAndGlyphs">2157.16</text>
<text x="121.3" y="394.1" font-size="6.6" fill="#2f9aa6" textLength="21.2" lengthAdjust="spacingAndGlyphs">204.96</text>
<text x="151.4" y="394.1" font-size="6.6" fill="#2f9aa6" textLength="14.8" lengthAdjust="spacingAndGlyphs">9.3%</text>
<text x="6.7" y="420.1" font-size="6.6" fill="#222" font-weight="bold" textLength="9.6" lengthAdjust="spacingAndGlyphs">RSI</text>
<text x="19" y="420.1" font-size="6.6" fill="#444" textLength="7.3" lengthAdjust="spacingAndGlyphs">14</text>
<path d="M37.09 417.21 L38.10 417.27 L38.10 418.53 L37.09 418.59 L36.79 419.32 L37.46 420.06 L36.56 420.96 L35.82 420.29 L35.09 420.59 L35.03 421.60 L33.77 421.60 L33.71 420.59 L32.98 420.29 L32.24 420.96 L31.34 420.06 L32.01 419.32 L31.71 418.59 L30.70 418.53 L30.70 417.27 L31.71 417.21 L32.01 416.48 L31.34 415.74 L32.24 414.84 L32.98 415.51 L33.71 415.21 L33.77 414.20 L35.03 414.20 L35.09 415.21 L35.82 415.51 L36.56 414.84 L37.46 415.74 L36.79 416.48Z" fill="#8a8a8a"/><circle cx="34.4" cy="417.9" r="1.25" fill="#fff"/>
<path d="M43.15 415.45 L48.050000000000004 420.34999999999997 M48.050000000000004 415.45 L43.15 420.34999999999997" stroke="#8e8e8e" stroke-width="1.6" fill="none"/>
<rect x="23.8" y="477.3" width="11.6" height="7.4" rx="1.6" fill="#fff" stroke="#a5a5a5" stroke-width="1"/><path d="M27.4 477 v-1 M31.8 477 v-1" stroke="#c5c5c5" stroke-width="1.2"/><text x="29.6" y="483.4" font-size="6" fill="#b8b8b8" text-anchor="middle">3</text><rect x="69.7" y="477.3" width="11.6" height="7.4" rx="1.6" fill="#fff" stroke="#a5a5a5" stroke-width="1"/><path d="M73.3 477 v-1 M77.7 477 v-1" stroke="#c5c5c5" stroke-width="1.2"/><text x="75.5" y="483.4" font-size="6" fill="#b8b8b8" text-anchor="middle">4</text><rect x="125.6" y="477.3" width="11.6" height="7.4" rx="1.6" fill="#fff" stroke="#a5a5a5" stroke-width="1"/><path d="M129.2 477 v-1 M133.6 477 v-1" stroke="#c5c5c5" stroke-width="1.2"/><text x="131.4" y="483.4" font-size="6" fill="#b8b8b8" text-anchor="middle">4</text><rect x="181.2" y="477.3" width="11.6" height="7.4" rx="1.6" fill="#fff" stroke="#a5a5a5" stroke-width="1"/><path d="M184.8 477 v-1 M189.2 477 v-1" stroke="#c5c5c5" stroke-width="1.2"/><text x="187.0" y="483.4" font-size="6" fill="#b8b8b8" text-anchor="middle">6</text><rect x="292.2" y="477.3" width="11.6" height="7.4" rx="1.6" fill="#fff" stroke="#a5a5a5" stroke-width="1"/><path d="M295.8 477 v-1 M300.2 477 v-1" stroke="#c5c5c5" stroke-width="1.2"/><text x="298.0" y="483.4" font-size="6" fill="#b8b8b8" text-anchor="middle">6</text><rect x="348.2" y="477.3" width="11.6" height="7.4" rx="1.6" fill="#fff" stroke="#a5a5a5" stroke-width="1"/><path d="M351.8 477 v-1 M356.2 477 v-1" stroke="#c5c5c5" stroke-width="1.2"/><text x="354.0" y="483.4" font-size="6" fill="#b8b8b8" text-anchor="middle">4</text><rect x="403.6" y="477.3" width="11.6" height="7.4" rx="1.6" fill="#fff" stroke="#a5a5a5" stroke-width="1"/><path d="M407.2 477 v-1 M411.6 477 v-1" stroke="#c5c5c5" stroke-width="1.2"/><text x="409.4" y="483.4" font-size="6" fill="#b8b8b8" text-anchor="middle">5</text><rect x="459.0" y="477.3" width="11.6" height="7.4" rx="1.6" fill="#fff" stroke="#a5a5a5" stroke-width="1"/><path d="M462.6 477 v-1 M467.0 477 v-1" stroke="#c5c5c5" stroke-width="1.2"/><text x="464.8" y="483.4" font-size="6" fill="#b8b8b8" text-anchor="middle">4</text><rect x="571.4" y="477.3" width="11.6" height="7.4" rx="1.6" fill="#fff" stroke="#a5a5a5" stroke-width="1"/><path d="M575.0 477 v-1 M579.4 477 v-1" stroke="#c5c5c5" stroke-width="1.2"/><text x="577.2" y="483.4" font-size="6" fill="#b8b8b8" text-anchor="middle">4</text><rect x="626.2" y="477.3" width="11.6" height="7.4" rx="1.6" fill="#fff" stroke="#a5a5a5" stroke-width="1"/><path d="M629.8 477 v-1 M634.2 477 v-1" stroke="#c5c5c5" stroke-width="1.2"/><text x="632.0" y="483.4" font-size="6" fill="#b8b8b8" text-anchor="middle">7</text><rect x="681.9" y="477.3" width="11.6" height="7.4" rx="1.6" fill="#fff" stroke="#a5a5a5" stroke-width="1"/><path d="M685.5 477 v-1 M689.9 477 v-1" stroke="#c5c5c5" stroke-width="1.2"/><text x="687.7" y="483.4" font-size="6" fill="#b8b8b8" text-anchor="middle">7</text><rect x="737.9" y="477.3" width="11.6" height="7.4" rx="1.6" fill="#fff" stroke="#a5a5a5" stroke-width="1"/><path d="M741.5 477 v-1 M745.9 477 v-1" stroke="#c5c5c5" stroke-width="1.2"/><text x="743.7" y="483.4" font-size="6" fill="#b8b8b8" text-anchor="middle">3</text><rect x="793.0" y="477.3" width="11.6" height="7.4" rx="1.6" fill="#fff" stroke="#a5a5a5" stroke-width="1"/><path d="M796.6 477 v-1 M801.0 477 v-1" stroke="#c5c5c5" stroke-width="1.2"/><text x="798.8" y="483.4" font-size="6" fill="#b8b8b8" text-anchor="middle">4</text><rect x="849.2" y="477.3" width="11.6" height="7.4" rx="1.6" fill="#fff" stroke="#a5a5a5" stroke-width="1"/><path d="M852.8 477 v-1 M857.2 477 v-1" stroke="#c5c5c5" stroke-width="1.2"/><text x="855.0" y="483.4" font-size="6" fill="#b8b8b8" text-anchor="middle">4</text><rect x="905.1" y="477.3" width="11.6" height="7.4" rx="1.6" fill="#fff" stroke="#a5a5a5" stroke-width="1"/><path d="M908.7 477 v-1 M913.1 477 v-1" stroke="#c5c5c5" stroke-width="1.2"/><text x="910.9" y="483.4" font-size="6" fill="#b8b8b8" text-anchor="middle">6</text>
<g><rect x="514.4" y="475" width="13.2" height="10" fill="#fbdcdc"/><rect x="514.4" y="475.00" width="13.2" height="1.43" fill="#f4b0b4"/><rect x="514.4" y="477.86" width="13.2" height="1.43" fill="#f4b0b4"/><rect x="514.4" y="480.71" width="13.2" height="1.43" fill="#f4b0b4"/><rect x="514.4" y="483.57" width="13.2" height="1.43" fill="#f4b0b4"/><rect x="514.4" y="475" width="6.1" height="5" fill="#8894bd"/></g>
<rect x="0" y="491.8" width="979" height="26.6" fill="#dcdcdc"/>
<rect x="0" y="517.6" width="979" height="1" fill="#bdbdbd"/>
<line x1="34.6" y1="491.8" x2="34.6" y2="521" stroke="#cdcdcd" stroke-width="1"/><text x="26.1" y="529.4" font-size="8.4" fill="#555" textLength="17" lengthAdjust="spacingAndGlyphs">1997</text><line x1="69.1" y1="491.8" x2="69.1" y2="521" stroke="#cdcdcd" stroke-width="1"/><text x="60.6" y="529.4" font-size="8.4" fill="#555" textLength="17" lengthAdjust="spacingAndGlyphs">1998</text><line x1="102.7" y1="491.8" x2="102.7" y2="521" stroke="#cdcdcd" stroke-width="1"/><text x="94.2" y="529.4" font-size="8.4" fill="#555" textLength="17" lengthAdjust="spacingAndGlyphs">1999</text><line x1="137.0" y1="491.8" x2="137.0" y2="521" stroke="#cdcdcd" stroke-width="1"/><text x="128.5" y="529.4" font-size="8.4" fill="#555" textLength="17" lengthAdjust="spacingAndGlyphs">2000</text><line x1="171.4" y1="491.8" x2="171.4" y2="521" stroke="#cdcdcd" stroke-width="1"/><text x="162.9" y="529.4" font-size="8.4" fill="#555" textLength="17" lengthAdjust="spacingAndGlyphs">2001</text><line x1="205.9" y1="491.8" x2="205.9" y2="521" stroke="#cdcdcd" stroke-width="1"/><text x="197.4" y="529.4" font-size="8.4" fill="#555" textLength="17" lengthAdjust="spacingAndGlyphs">2002</text><line x1="240.2" y1="491.8" x2="240.2" y2="521" stroke="#cdcdcd" stroke-width="1"/><text x="231.7" y="529.4" font-size="8.4" fill="#555" textLength="17" lengthAdjust="spacingAndGlyphs">2003</text><line x1="274.9" y1="491.8" x2="274.9" y2="521" stroke="#cdcdcd" stroke-width="1"/><text x="266.4" y="529.4" font-size="8.4" fill="#555" textLength="17" lengthAdjust="spacingAndGlyphs">2004</text><line x1="308.6" y1="491.8" x2="308.6" y2="521" stroke="#cdcdcd" stroke-width="1"/><text x="300.1" y="529.4" font-size="8.4" fill="#555" textLength="17" lengthAdjust="spacingAndGlyphs">2005</text><line x1="342.8" y1="491.8" x2="342.8" y2="521" stroke="#cdcdcd" stroke-width="1"/><text x="334.3" y="529.4" font-size="8.4" fill="#555" textLength="17" lengthAdjust="spacingAndGlyphs">2006</text><line x1="378.3" y1="491.8" x2="378.3" y2="521" stroke="#cdcdcd" stroke-width="1"/><text x="369.8" y="529.4" font-size="8.4" fill="#555" textLength="17" lengthAdjust="spacingAndGlyphs">2007</text><line x1="412.6" y1="491.8" x2="412.6" y2="521" stroke="#cdcdcd" stroke-width="1"/><text x="404.1" y="529.4" font-size="8.4" fill="#555" textLength="17" lengthAdjust="spacingAndGlyphs">2008</text><line x1="478.6" y1="491.8" x2="478.6" y2="521" stroke="#cdcdcd" stroke-width="1"/><text x="470.1" y="529.4" font-size="8.4" fill="#555" textLength="17" lengthAdjust="spacingAndGlyphs">2010</text><line x1="512.3" y1="491.8" x2="512.3" y2="521" stroke="#cdcdcd" stroke-width="1"/><text x="503.8" y="529.4" font-size="8.4" fill="#555" textLength="17" lengthAdjust="spacingAndGlyphs">2011</text><line x1="547.5" y1="491.8" x2="547.5" y2="521" stroke="#cdcdcd" stroke-width="1"/><text x="539.0" y="529.4" font-size="8.4" fill="#555" textLength="17" lengthAdjust="spacingAndGlyphs">2012</text><line x1="582.2" y1="491.8" x2="582.2" y2="521" stroke="#cdcdcd" stroke-width="1"/><text x="573.7" y="529.4" font-size="8.4" fill="#555" textLength="17" lengthAdjust="spacingAndGlyphs">2013</text><line x1="616.2" y1="491.8" x2="616.2" y2="521" stroke="#cdcdcd" stroke-width="1"/><text x="607.7" y="529.4" font-size="8.4" fill="#555" textLength="17" lengthAdjust="spacingAndGlyphs">2014</text><line x1="650.6" y1="491.8" x2="650.6" y2="521" stroke="#cdcdcd" stroke-width="1"/><text x="642.1" y="529.4" font-size="8.4" fill="#555" textLength="17" lengthAdjust="spacingAndGlyphs">2015</text><line x1="685.4" y1="491.8" x2="685.4" y2="521" stroke="#cdcdcd" stroke-width="1"/><text x="676.9" y="529.4" font-size="8.4" fill="#555" textLength="17" lengthAdjust="spacingAndGlyphs">2016</text><line x1="719.5" y1="491.8" x2="719.5" y2="521" stroke="#cdcdcd" stroke-width="1"/><text x="711.0" y="529.4" font-size="8.4" fill="#555" textLength="17" lengthAdjust="spacingAndGlyphs">2017</text><line x1="753.5" y1="491.8" x2="753.5" y2="521" stroke="#cdcdcd" stroke-width="1"/><text x="745.0" y="529.4" font-size="8.4" fill="#555" textLength="17" lengthAdjust="spacingAndGlyphs">2018</text><line x1="788.2" y1="491.8" x2="788.2" y2="521" stroke="#cdcdcd" stroke-width="1"/><text x="779.7" y="529.4" font-size="8.4" fill="#555" textLength="17" lengthAdjust="spacingAndGlyphs">2019</text><line x1="822.2" y1="491.8" x2="822.2" y2="521" stroke="#cdcdcd" stroke-width="1"/><text x="813.7" y="529.4" font-size="8.4" fill="#555" textLength="17" lengthAdjust="spacingAndGlyphs">2020</text><line x1="857.4" y1="491.8" x2="857.4" y2="521" stroke="#cdcdcd" stroke-width="1"/><text x="848.9" y="529.4" font-size="8.4" fill="#555" textLength="17" lengthAdjust="spacingAndGlyphs">2021</text><line x1="891.4" y1="491.8" x2="891.4" y2="521" stroke="#cdcdcd" stroke-width="1"/><text x="882.9" y="529.4" font-size="8.4" fill="#555" textLength="17" lengthAdjust="spacingAndGlyphs">2022</text><line x1="925.7" y1="491.8" x2="925.7" y2="521" stroke="#cdcdcd" stroke-width="1"/><text x="917.2" y="529.4" font-size="8.4" fill="#555" textLength="17" lengthAdjust="spacingAndGlyphs">2023</text><line x1="960.0" y1="491.8" x2="960.0" y2="521" stroke="#cdcdcd" stroke-width="1"/><text x="951.5" y="529.4" font-size="8.4" fill="#555" textLength="17" lengthAdjust="spacingAndGlyphs">2024</text>
<rect x="966.6" y="491.3" width="11.2" height="27.6" fill="#fff"/>
<polyline points="0.0,511.6 34.0,511.6 35.8,512.4 120.0,512.4 205.0,512.4 238.0,512.2 240.0,512.1 242.0,511.4 245.0,512.6 252.7,511.9 256.5,512.6 260.3,511.9 308.5,511.6 328.8,511.6 341.5,510.8 351.7,510.8 355.5,509.3 359.3,510.1 392.3,510.1 399.9,510.1 405.0,509.1 412.6,508.1 420.2,507.5 425.3,508.6 432.9,508.3 439.2,509.6 448.1,508.3 468.4,507.8 474.8,506.8 481.1,507.5 485.0,507.0 495.2,507.0 505.3,505.8 515.5,505.8 523.1,505.0 530.7,505.0 535.0,502.7 539.6,504.0 545.9,504.5 552.3,503.7 558.6,504.5 568.8,504.5 572.6,503.5 584.0,503.7 591.6,505.0 599.2,506.3 606.8,505.8 614.4,506.5 622.1,506.0 637.3,506.3 650.0,506.8 653.8,506.0 660.1,506.8 670.3,507.0 675.4,506.5 683.0,507.5 688.0,506.3 695.7,506.0 703.3,505.5 713.4,506.5 723.6,506.3 735.0,506.2 752.8,506.3 756.6,505.5 762.9,506.0 773.1,506.8 783.2,506.8 788.3,506.0 803.5,505.8 811.1,505.0 821.3,505.0 828.9,504.0 837.8,503.5 842.9,501.5 847.9,502.5 859.4,502.7 864.4,503.7 870.8,502.5 878.4,503.5 882.2,502.7 893.6,502.5 897.4,501.7 907.6,503.0 912.7,503.5 917.7,504.5 925.4,502.7 933.0,501.5 943.1,502.2 950.8,502.5 957.1,501.5 964.7,501.2 969.8,499.4 973.6,500.2 976.1,499.4" fill="none" stroke="#c4283a" stroke-width="1.5"/>
<polyline points="0.0,511.6 34.0,511.6 35.8,512.4 120.0,512.4 205.0,512.4 238.0,512.2 240.0,512.1 242.0,511.4 245.0,512.6 252.7,511.9 256.5,512.6 260.3,511.9 308.5,511.6 328.8,511.6 341.5,510.8 351.7,510.8 355.5,509.3 359.3,510.1 392.3,510.1 399.9,510.1 405.0,509.1 412.6,508.1 420.2,507.5 425.3,508.6 432.9,508.3 439.2,509.6 448.1,508.3 468.4,507.8 474.8,506.8 481.1,507.5 485.0,507.0 495.2,507.0 505.3,505.8 515.5,505.8 523.1,505.0 530.7,505.0 535.0,502.7 539.6,504.0 545.9,504.5 552.3,503.7 558.6,504.5 568.8,504.5 572.6,503.5 584.0,503.7 591.6,505.0 599.2,506.3 606.8,505.8 614.4,506.5 622.1,506.0 637.3,506.3 650.0,506.8 653.8,506.0 660.1,506.8 670.3,507.0 675.4,506.5 683.0,507.5 688.0,506.3 695.7,506.0 703.3,505.5 713.4,506.5 723.6,506.3 735.0,506.2 752.8,506.3 756.6,505.5 762.9,506.0 773.1,506.8 783.2,506.8 788.3,506.0 803.5,505.8 811.1,505.0 821.3,505.0 828.9,504.0 837.8,503.5 842.9,501.5 847.9,502.5 859.4,502.7 864.4,503.7 870.8,502.5 878.4,503.5 882.2,502.7 893.6,502.5 897.4,501.7 907.6,503.0 912.7,503.5 917.7,504.5 925.4,502.7 933.0,501.5 943.1,502.2 950.8,502.5 957.1,501.5 964.7,501.2 969.8,499.4 973.6,500.2 976.1,499.4" fill="none" stroke="#0f8492" stroke-width="1.5" stroke-dasharray="2.3,2,1.2,1.6,3.2,2.4,4.2,1.8"/>
<line x1="966.6" y1="491.8" x2="966.6" y2="518.4" stroke="#9a9a9a" stroke-width="0.9"/><line x1="977.8" y1="491.8" x2="977.8" y2="518.4" stroke="#9a9a9a" stroke-width="0.9"/>
<rect x="965.3" y="498.2" width="2.6" height="14.4" rx="1.2" fill="#858585"/><rect x="976.5" y="498.2" width="2.6" height="14.4" rx="1.2" fill="#858585"/>
<rect x="1" y="493.8" width="9.6" height="9.4" rx="1.5" fill="#f7f7f7"/>
<path d="M3.6 496.2 L8 500.8 M8 496.2 L3.6 500.8" stroke="#555" stroke-width="1.7" fill="none"/>
<path d="M985 531.5 V537 H979.5 Z" fill="#6a6a6a"/>
<rect x="0" y="0" width="985" height="23.4" fill="#000"/>
<rect x="5" y="4.5" width="15" height="14.4" fill="#fff"/>
<path d="M6 9.5H19M6 13H19M6 16H19" stroke="#ececec" stroke-width="0.6"/><polyline points="7.2,15.8 10,10.6 14,11.8 17.4,7.8" fill="none" stroke="#16909c" stroke-width="1.5" stroke-linejoin="miter"/>
<text x="26" y="15.2" font-size="9.1" fill="#d6d6d6" textLength="57.8" lengthAdjust="spacingAndGlyphs">SPOT, GOLD</text>
<circle cx="94.2" cy="10.6" r="2.5" fill="none" stroke="#cfcfcf" stroke-width="1"/><line x1="96.1" y1="12.5" x2="100.3" y2="15.7" stroke="#cfcfcf" stroke-width="1.3"/>
<line x1="938.9" y1="15.8" x2="947.9" y2="15.8" stroke="#dcdcdc" stroke-width="1.5"/>
<rect x="954.1" y="10.6" width="5.3" height="5.4" fill="none" stroke="#d2d2d2" stroke-width="1.3"/>
<path d="M957 13.3 H963 M958.4 12 L957 13.3 L958.4 14.6" stroke="#d8d8d8" stroke-width="1.1" fill="none"/>
<path d="M961.3 6.2 L961.9 7.8 L963.5 8.4 L961.9 9 L961.3 10.6 L960.7 9 L959.1 8.4 L960.7 7.8 Z" fill="#efefef"/>
<path d="M962 12 L963.3 13.3 L962 14.6 L960.9 13.3 Z" fill="#e4e4e4"/>
<path d="M969 6.9 L978.2 16.4 M978.2 6.9 L969 16.4" stroke="#ececec" stroke-width="1.1"/>
<rect x="0" y="48" width="985" height="2" fill="#c6c6c6"/>
<text x="8" y="39.7" font-size="8.9" fill="#3a3a3a" font-weight="bold" textLength="20.5" lengthAdjust="spacingAndGlyphs">Daily</text>
<text x="52" y="39.7" font-size="8.9" fill="#3a3a3a" font-weight="bold" textLength="38.5" lengthAdjust="spacingAndGlyphs">Technical</text>
<text x="114" y="39.7" font-size="8.9" fill="#3a3a3a" font-weight="bold" textLength="29.5" lengthAdjust="spacingAndGlyphs">Display</text>
<text x="166.7" y="39.7" font-size="8.9" fill="#3a3a3a" font-weight="bold" textLength="21.3" lengthAdjust="spacingAndGlyphs">More</text>
<path d="M32 35.3 h6 l-3 3.2 Z" fill="#555"/>
<path d="M95 35.3 h6 l-3 3.2 Z" fill="#555"/>
<path d="M147.5 35.3 h6 l-3 3.2 Z" fill="#555"/>
<path d="M192 35.3 h6 l-3 3.2 Z" fill="#555"/>
<path d="M212.8 39.9 V33.2 Q212.8 32.6 213.4 32.6 H215.8 L217 33.9 H219.7 Q220.2 33.9 220.2 34.5 V35.8" fill="#fff" stroke="#3a3a3a" stroke-width="0.9" stroke-linejoin="round"/>
<path d="M213.3 40.3 L215.9 35.7 H222.6 L220.4 40.3 Z" fill="#222"/>
<rect x="235.4" y="31.9" width="8.8" height="8.9" rx="1.2" fill="#fff" stroke="#1e1e1e" stroke-width="1.6"/>
<rect x="236.9" y="31.8" width="5.9" height="3.1" fill="#1e1e1e"/><rect x="240.4" y="32.7" width="1" height="1.5" fill="#fff"/>
<rect x="236.3" y="36.1" width="7" height="0.8" fill="#1e1e1e"/>
<rect x="256.2" y="35.2" width="8.7" height="2.2" fill="#111"/>
<rect x="277.2" y="35.1" width="8.7" height="2.2" fill="#111"/><rect x="280.45" y="31.9" width="2.2" height="8.6" fill="#111"/>
<text x="778.7" y="40.4" font-size="9" fill="#555" textLength="74.7" lengthAdjust="spacingAndGlyphs">CURRENT PRICE:</text>
<rect x="864.8" y="28.1" width="55.2" height="15.8" fill="#c5283d"/>
<rect x="927.2" y="28.1" width="55" height="15.8" fill="#168a96"/>
<text x="874.3" y="39.5" font-size="10.8" fill="#fff" textLength="31.5" lengthAdjust="spacingAndGlyphs">2408.8</text>
<text x="906.6" y="39.5" font-size="7.2" fill="#fff" textLength="3.7" lengthAdjust="spacingAndGlyphs">9</text>
<text x="937" y="39.5" font-size="10.8" fill="#fff" textLength="31.2" lengthAdjust="spacingAndGlyphs">2409.1</text>
<text x="969.1" y="39.5" font-size="7.2" fill="#fff" textLength="3.7" lengthAdjust="spacingAndGlyphs">9</text>
<path d="M869.9 28.8 h2.6 v2.8 h1.4 l-2.7 3.3 l-2.7 -3.3 h1.4 Z" fill="#8a1526"/>
<path d="M974.8 35.2 h2.6 v-2.8 h1.5 l-2.8 -3.5 l-2.8 3.5 h1.5 Z" fill="#0c5d66"/>
</svg>
</body></html>
